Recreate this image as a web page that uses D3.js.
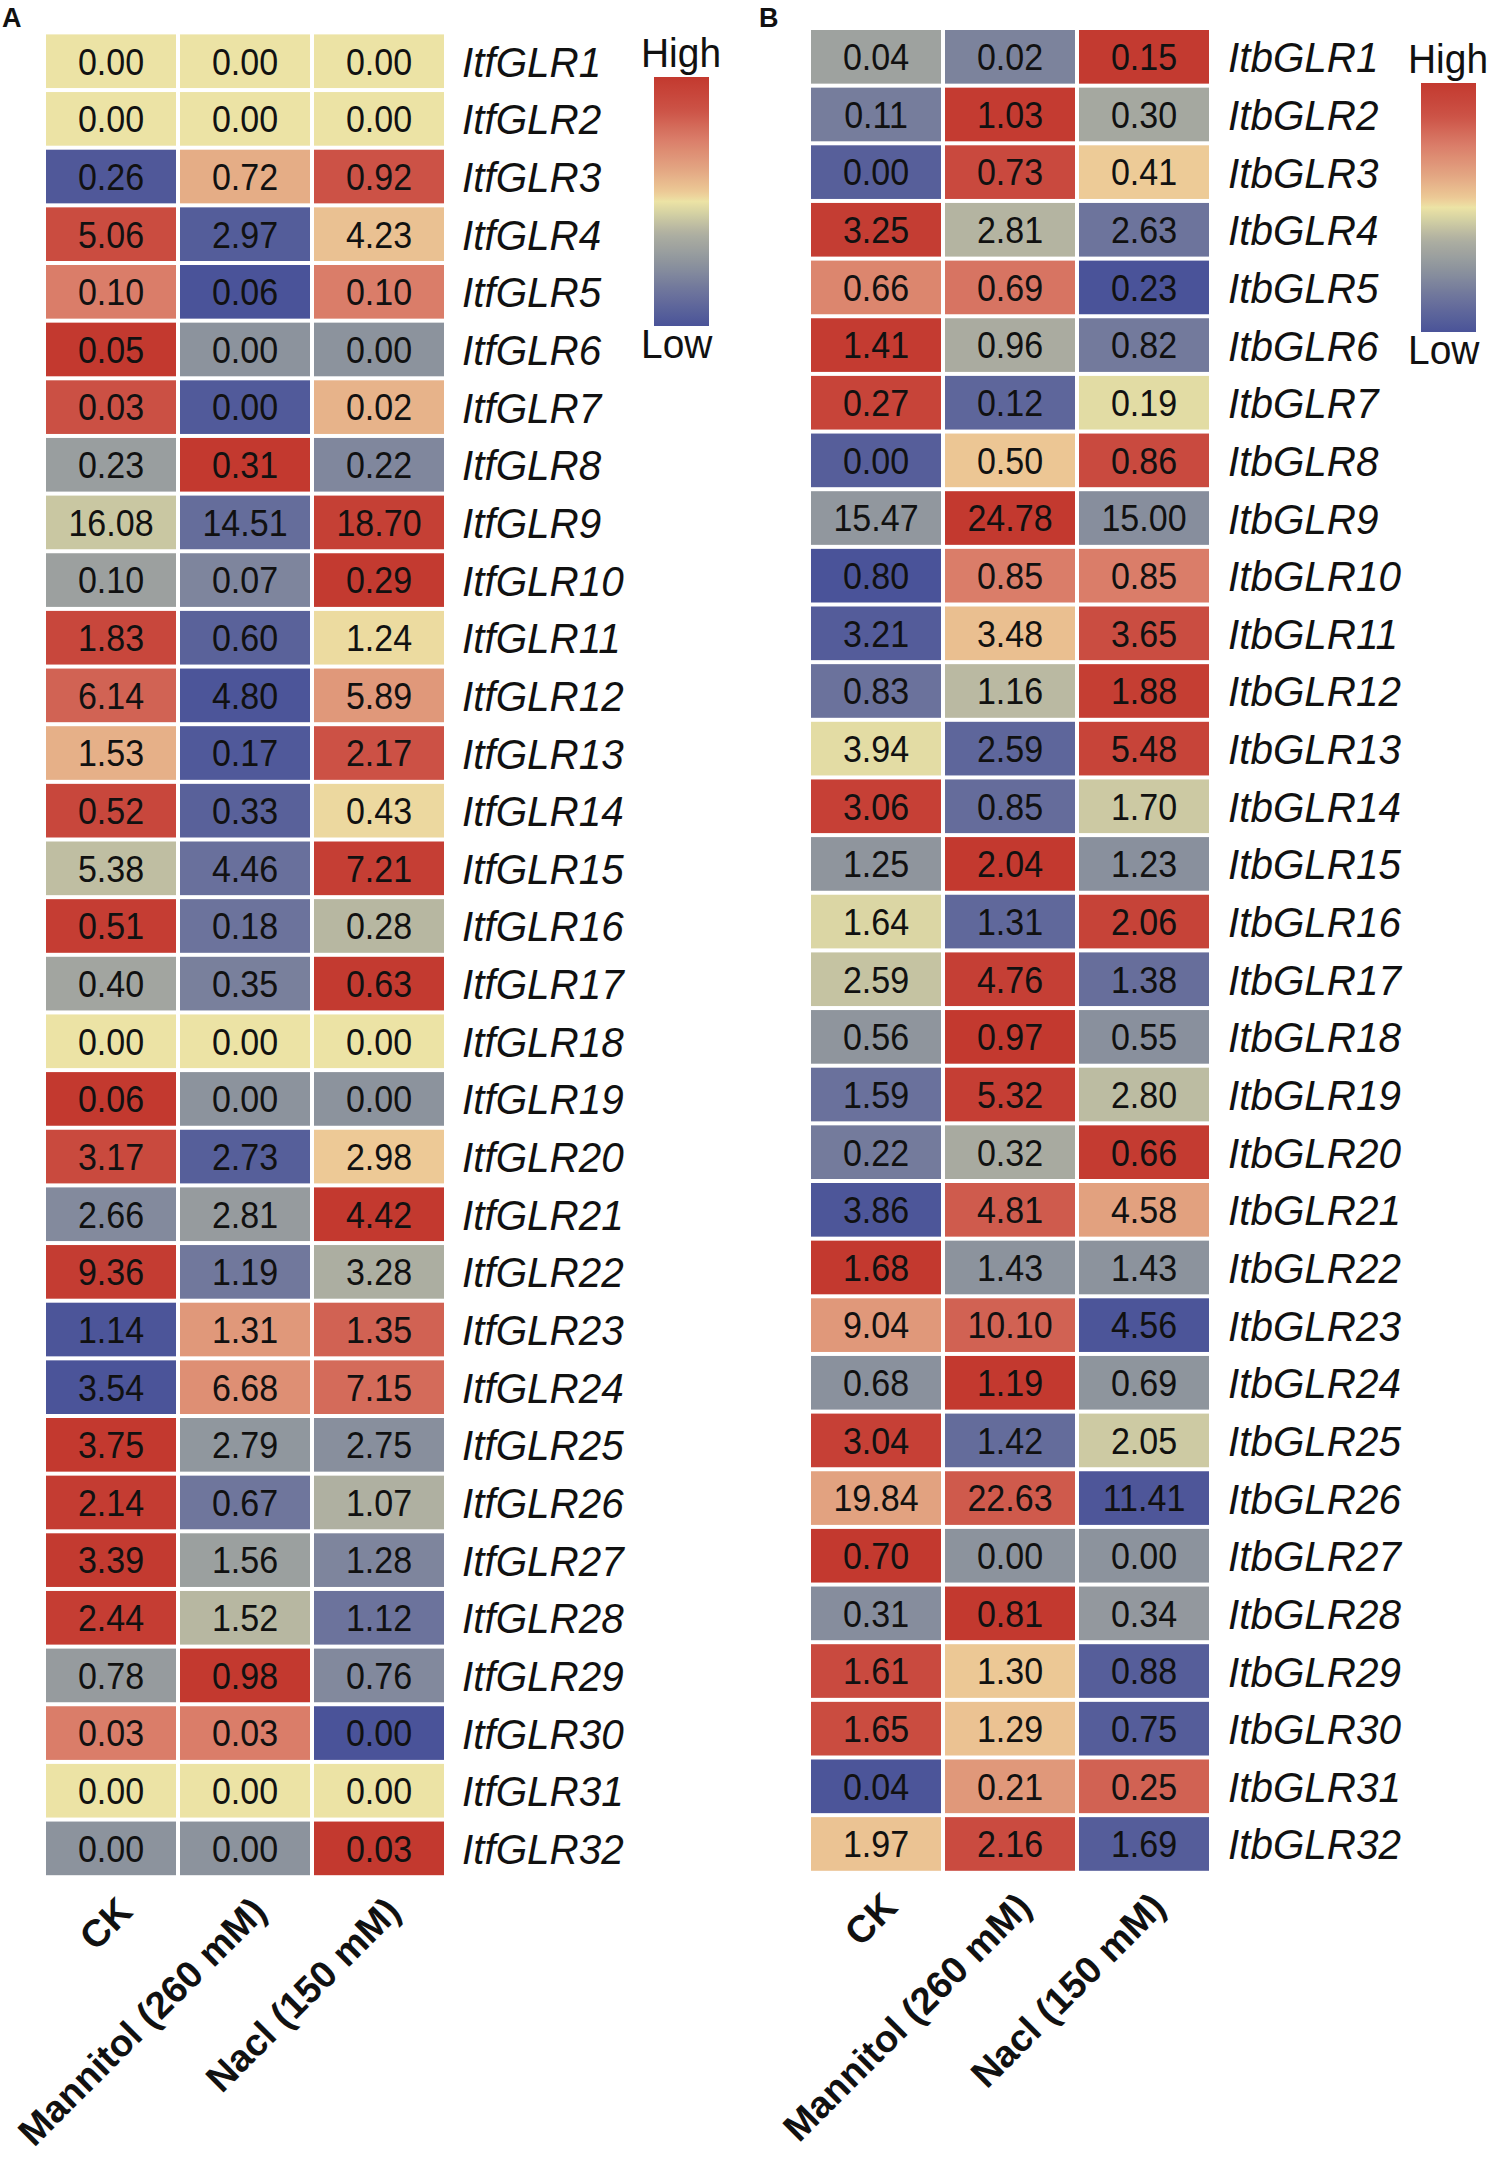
<!DOCTYPE html>
<html>
<head>
<meta charset="utf-8">
<script src="https://cdn.jsdelivr.net/npm/d3@7"></script>
<style>
  body { margin: 0; background: #fff; }
  svg text { font-family: "Liberation Sans", Arial, sans-serif; fill: #111; }
</style>
</head>
<body>
<div id="chart"></div>
<script>
// columns (treatments)
const conditions = ["CK", "Mannitol (260 mM)", "Nacl (150 mM)"];

// panel A : I. trifida
const genesA = d3.range(1, 33).map(i => "ItfGLR" + i);
const ckA       = [0.00,0.00,0.26,5.06,0.10,0.05,0.03,0.23,16.08,0.10,1.83,6.14,1.53,0.52,5.38,0.51,0.40,0.00,0.06,3.17,2.66,9.36,1.14,3.54,3.75,2.14,3.39,2.44,0.78,0.03,0.00,0.00];
const mannitolA = [0.00,0.00,0.72,2.97,0.06,0.00,0.00,0.31,14.51,0.07,0.60,4.80,0.17,0.33,4.46,0.18,0.35,0.00,0.00,2.73,2.81,1.19,1.31,6.68,2.79,0.67,1.56,1.52,0.98,0.03,0.00,0.00];
const naclA     = [0.00,0.00,0.92,4.23,0.10,0.00,0.02,0.22,18.70,0.29,1.24,5.89,2.17,0.43,7.21,0.28,0.63,0.00,0.00,2.98,4.42,3.28,1.35,7.15,2.75,1.07,1.28,1.12,0.76,0.00,0.00,0.03];

// panel B : I. batatas
const genesB = d3.range(1, 33).map(i => "ItbGLR" + i);
const ckB       = [0.04,0.11,0.00,3.25,0.66,1.41,0.27,0.00,15.47,0.80,3.21,0.83,3.94,3.06,1.25,1.64,2.59,0.56,1.59,0.22,3.86,1.68,9.04,0.68,3.04,19.84,0.70,0.31,1.61,1.65,0.04,1.97];
const mannitolB = [0.02,1.03,0.73,2.81,0.69,0.96,0.12,0.50,24.78,0.85,3.48,1.16,2.59,0.85,2.04,1.31,4.76,0.97,5.32,0.32,4.81,1.43,10.10,1.19,1.42,22.63,0.00,0.81,1.30,1.29,0.21,2.16];
const naclB     = [0.15,0.30,0.41,2.63,0.23,0.82,0.19,0.86,15.00,0.85,3.65,1.88,5.48,1.70,1.23,2.06,1.38,0.55,2.80,0.66,4.58,1.43,4.56,0.69,2.05,11.41,0.00,0.34,0.88,0.75,0.25,1.69];

// colour ramp of the row z-score (3 columns -> |z| <= 2/sqrt(3))
const zMax = 2 / Math.sqrt(3);
const zStops = [-zMax, -0.83, -0.577, -0.3, -0.12, 0, 0.08, 0.3, 0.577, 0.85, zMax];
const rampColors = ["#4a5399", "#6e759c", "#8c939d", "#aeafa1", "#d2cfa3", "#ece3a5",
                    "#edcb97", "#e3a582", "#da7d69", "#cc5246", "#c3392f"];

const W = 1492, H = 2165;

const svg = d3.select("#chart").append("svg")
    .attr("width", W)
    .attr("height", H);

const color = d3.scaleLinear().domain(zStops).range(rampColors).clamp(true);

// gradient for the legend bar
const grad = svg.append("defs").append("linearGradient")
    .attr("id", "ramp")
    .attr("x1", 0).attr("y1", 1).attr("x2", 0).attr("y2", 0);
grad.selectAll("stop")
    .data(d3.range(0, 1.0001, 0.02))
    .enter().append("stop")
    .attr("offset", d => d)
    .attr("stop-color", d => color(-zMax + d * 2 * zMax));

function rowZ(vals) {
    const m = d3.mean(vals), s = d3.deviation(vals);
    return vals.map(v => (s > 0 ? (v - m) / s : 0));
}

function renderPanel(cfg, genes, series) {
    const g = svg.append("g");

    // build cell table from the series
    const cells = [];
    genes.forEach((gene, i) => {
        const vals = series.map(s => s[i]);
        const z = rowZ(vals);
        vals.forEach((v, j) => cells.push({gene: gene, cond: conditions[j], value: v, z: z[j]}));
    });

    const x = d3.scaleBand()
        .domain(conditions)
        .range([cfg.left, cfg.left + 398])
        .paddingInner(4 / 134);
    const y = d3.scaleBand()
        .domain(genes)
        .range([cfg.top, cfg.top + 32 * 57.65 - 4])
        .paddingInner(4 / 57.65);
    const bottom = cfg.top + 32 * 57.65;

    g.append("text")
        .attr("x", cfg.letterX)
        .attr("y", 27)
        .style("font-size", "27px")
        .style("font-weight", "bold")
        .text(cfg.letter);

    g.selectAll("rect.cell")
        .data(cells)
        .enter().append("rect")
        .attr("class", "cell")
        .attr("x", d => x(d.cond))
        .attr("y", d => y(d.gene))
        .attr("width", x.bandwidth())
        .attr("height", y.bandwidth())
        .attr("fill", d => color(d.z));

    g.selectAll("text.val")
        .data(cells)
        .enter().append("text")
        .attr("class", "val")
        .attr("transform", d => `translate(${x(d.cond) + x.bandwidth() / 2},${y(d.gene) + y.bandwidth() / 2}) scale(0.92,1)`)
        .attr("dy", "0.36em")
        .style("text-anchor", "middle")
        .style("font-size", "37px")
        .text(d => d.value.toFixed(2));

    // gene names on the right
    g.selectAll("text.gene")
        .data(genes)
        .enter().append("text")
        .attr("class", "gene")
        .attr("transform", d => `translate(${cfg.labelX},${y(d) + y.bandwidth() / 2}) scale(0.94,1)`)
        .attr("dy", "0.36em")
        .style("font-size", "43px")
        .style("font-style", "italic")
        .text(d => d);

    // treatment names, slanted
    g.selectAll("text.cond")
        .data(conditions)
        .enter().append("text")
        .attr("class", "cond")
        .attr("transform", d => `translate(${x(d) + x.bandwidth() / 2 + 4},${bottom + 15}) rotate(-45)`)
        .attr("dy", "0.72em")
        .style("text-anchor", "end")
        .style("font-size", "38px")
        .style("font-weight", "bold")
        .text(d => d);

    // legend
    g.append("rect")
        .attr("x", cfg.barX)
        .attr("y", cfg.barY)
        .attr("width", 55)
        .attr("height", 249)
        .attr("fill", "url(#ramp)");
    g.append("text")
        .attr("transform", `translate(${cfg.barX - 13},${cfg.barY - 10}) scale(0.95,1)`)
        .style("font-size", "41px")
        .text("High");
    g.append("text")
        .attr("transform", `translate(${cfg.barX - 13},${cfg.barY + 281}) scale(0.95,1)`)
        .style("font-size", "41px")
        .text("Low");
}

renderPanel({letter: "A", letterX: 2, left: 46, top: 34.4, labelX: 462, barX: 654, barY: 77},
    genesA, [ckA, mannitolA, naclA]);
renderPanel({letter: "B", letterX: 759, left: 811, top: 30, labelX: 1228, barX: 1421, barY: 83},
    genesB, [ckB, mannitolB, naclB]);
</script>
</body>
</html>
